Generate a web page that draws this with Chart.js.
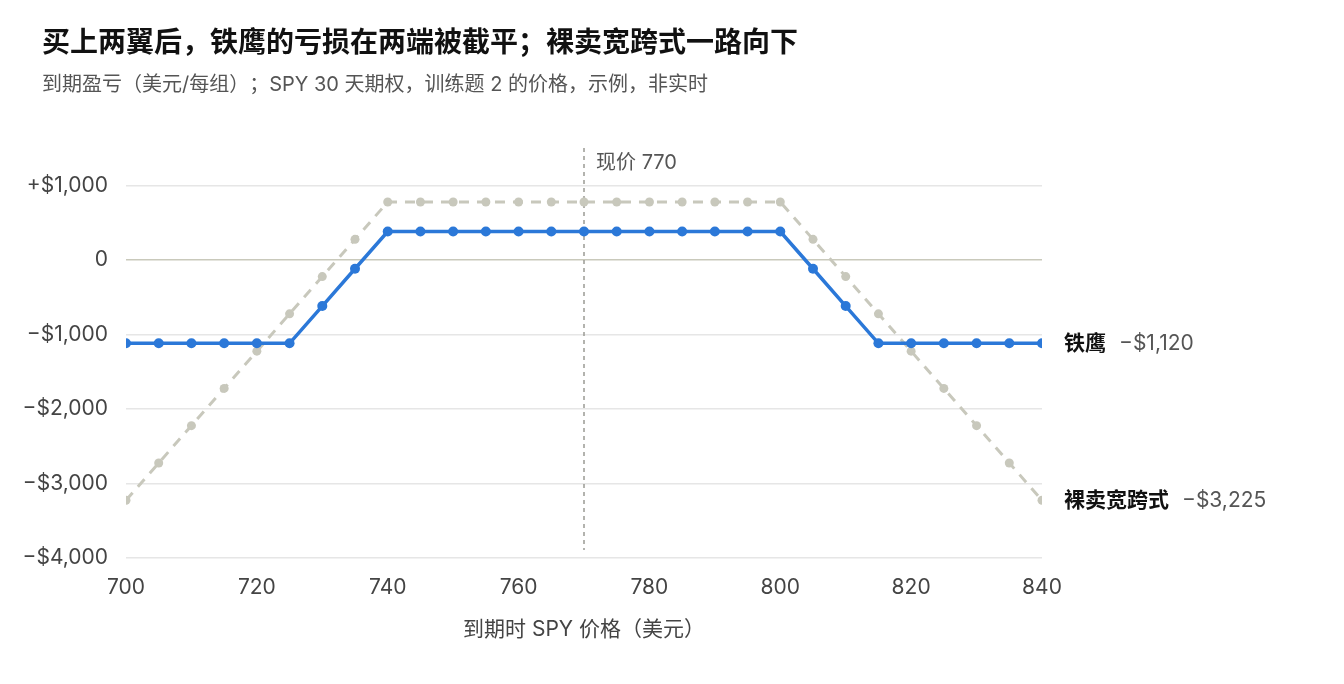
<!DOCTYPE html>
<html lang="zh-CN">
<head>
<meta charset="UTF-8">
<title>铁鹰 vs 裸卖宽跨式</title>
<script src="https://cdn.jsdelivr.net/npm/chart.js@4"></script>
<style>
  html, body { margin: 0; padding: 0; background: #fff; }
  #wrap { position: relative; width: 1344px; height: 684px; }
</style>
</head>
<body>
<div id="wrap">
  <canvas id="chartPayoff" width="1344" height="684"></canvas>
</div>

<script>
// 数据 ------------------------------------------------------------
const prices = [700, 705, 710, 715, 720, 725, 730, 735, 740, 745, 750, 755, 760, 765, 770,
                775, 780, 785, 790, 795, 800, 805, 810, 815, 820, 825, 830, 835, 840];

const ironCondor = [-1120, -1120, -1120, -1120, -1120, -1120, -620, -120, 380, 380, 380, 380, 380, 380, 380,
                    380, 380, 380, 380, 380, 380, -120, -620, -1120, -1120, -1120, -1120, -1120, -1120];

const shortStrangle = [-3225, -2725, -2225, -1725, -1225, -725, -225, 275, 775, 775, 775, 775, 775, 775, 775,
                       775, 775, 775, 775, 775, 775, 275, -225, -725, -1225, -1725, -2225, -2725, -3225];

const seriesNames = ['铁鹰', '裸卖宽跨式'];
const endValues = ['−$1,120', '−$3,225'];
const yTickValues = [-4000, -3000, -2000, -1000, 0, 1000];
const currentPrice = 770;

const titleText = '买上两翼后，铁鹰的亏损在两端被截平；裸卖宽跨式一路向下';
const subtitleText = '到期盈亏（美元/每组）；SPY 30 天期权，训练题 2 的价格，示例，非实时';
const xTitle = '到期时 SPY 价格（美元）';

const FONT = "Inter, 'Noto Sans CJK SC', sans-serif";

function fmtMoney(v) {
    if (v === 0) return '0';
    const s = '$' + Math.abs(v).toLocaleString('en-US');
    return (v > 0 ? '+' : '−') + s;
}

// 标题、现价线、末端标签 ---------------------------------------------
const extras = {
    id: 'extras',
    beforeDatasetsDraw(chart) {
        const ctx = chart.ctx;
        const x = chart.scales.x.getPixelForValue(currentPrice);
        const area = chart.chartArea;
        ctx.save();
        ctx.strokeStyle = '#9a9a94';
        ctx.lineWidth = 1.5;
        ctx.setLineDash([4, 4]);
        ctx.beginPath();
        ctx.moveTo(x, area.top);
        ctx.lineTo(x, area.bottom - 8);
        ctx.stroke();
        ctx.setLineDash([]);
        ctx.fillStyle = '#555';
        ctx.font = '20px ' + FONT;
        ctx.textBaseline = 'middle';
        ctx.fillText('现价 ' + currentPrice, x + 12, area.top + 15);
        ctx.restore();
    },
    afterDraw(chart) {
        const ctx = chart.ctx;
        ctx.save();
        // 标题
        ctx.textBaseline = 'middle';
        ctx.fillStyle = '#111';
        ctx.font = 'bold 28px ' + FONT;
        ctx.fillText(titleText, 42, 44);
        ctx.fillStyle = '#555';
        ctx.font = '20px ' + FONT;
        ctx.fillText(subtitleText, 42, 85);

        // 末端标签
        chart.data.datasets.forEach(function (ds, i) {
            const meta = chart.getDatasetMeta(i);
            const last = meta.data[meta.data.length - 1];
            const name = seriesNames[ds.seriesIndex];
            let lx = last.x + 22;
            ctx.font = 'bold 21px ' + FONT;
            ctx.fillStyle = '#111';
            ctx.fillText(name, lx, last.y);
            lx += ctx.measureText(name).width + 13;
            ctx.font = '21px ' + FONT;
            ctx.fillStyle = '#555';
            ctx.fillText(endValues[ds.seriesIndex], lx, last.y);
        });
        ctx.restore();
    }
};

const blue = '#2b78d8';
const gray = '#c8c8bc';

new Chart(document.getElementById('chartPayoff'), {
    type: 'line',
    data: {
        datasets: [
            {
                label: seriesNames[0],
                seriesIndex: 0,
                data: prices.map((p, i) => ({ x: p, y: ironCondor[i] })),
                borderColor: blue,
                backgroundColor: blue,
                borderWidth: 3.5,
                pointRadius: 5,
                pointBorderWidth: 0,
                order: 0
            },
            {
                label: seriesNames[1],
                seriesIndex: 1,
                data: prices.map((p, i) => ({ x: p, y: shortStrangle[i] })),
                borderColor: gray,
                backgroundColor: gray,
                borderWidth: 3,
                borderDash: [10, 8],
                pointRadius: 4.5,
                pointBorderWidth: 0,
                order: 1
            }
        ]
    },
    options: {
        responsive: false,
        animation: false,
        layout: { padding: { top: 148, right: 302, left: 0, bottom: 0 } },
        plugins: {
            legend: { display: false },
            tooltip: { enabled: false }
        },
        scales: {
            x: {
                type: 'linear',
                min: 700,
                max: 840,
                border: { display: false },
                grid: { display: false, drawTicks: false },
                ticks: {
                    stepSize: 20,
                    padding: 17,
                    color: '#444',
                    font: { family: FONT, size: 21 }
                },
                title: {
                    display: true,
                    text: xTitle,
                    color: '#444',
                    font: { family: FONT, size: 21 },
                    padding: { top: 0, bottom: 42 }
                },
                afterFit(scale) { scale.height = 126; }
            },
            y: {
                min: -4000,
                max: 1500,
                border: { display: false },
                afterBuildTicks(scale) {
                    scale.ticks = yTickValues.map(v => ({ value: v }));
                },
                grid: {
                    drawTicks: false,
                    lineWidth: 1.5,
                    color: ctx => ctx.tick && ctx.tick.value === 0 ? '#c9c9bb' : '#e6e6e6'
                },
                ticks: {
                    padding: 18,
                    color: '#444',
                    font: { family: FONT, size: 21 },
                    callback: v => fmtMoney(v)
                },
                afterFit(scale) { scale.width = 126; }
            }
        }
    },
    plugins: [extras]
});
</script>
</body>
</html>
